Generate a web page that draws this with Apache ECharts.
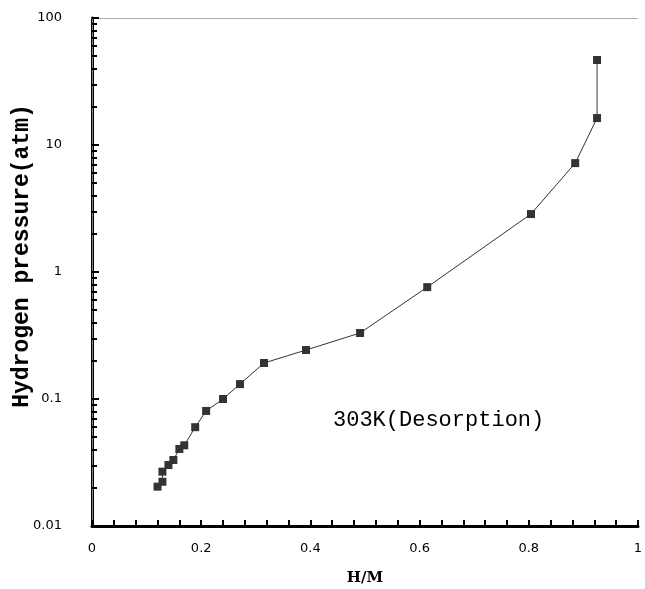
<!DOCTYPE html>
<html>
<head>
<meta charset="utf-8">
<script src="https://cdn.jsdelivr.net/npm/echarts@6/dist/echarts.min.js"></script>
<style>
  html, body { margin: 0; padding: 0; background: #fff; }
  #chart { width: 645px; height: 589px; }
</style>
</head>
<body>
<div id="chart"></div>
<script>
// H/M ratio and hydrogen pressure (atm), desorption at 303K
const hm = [0.925, 0.925, 0.885, 0.804, 0.614, 0.491, 0.392, 0.315, 0.271, 0.240,
  0.209, 0.189, 0.169, 0.160, 0.149, 0.140, 0.129, 0.129, 0.120];
const pressure = [46.7, 16.3, 7.2, 2.86, 0.76, 0.331, 0.243, 0.192, 0.131, 0.100,
  0.0805, 0.060, 0.0432, 0.0404, 0.0331, 0.0302, 0.0268, 0.0223, 0.0204];
const xTickLabels = ['0', '0.2', '0.4', '0.6', '0.8', '1'];
const yTickLabels = ['0.01', '0.1', '1', '10', '100'];

const myChart = echarts.init(document.getElementById('chart'));

const option = {
  animation: false,
  backgroundColor: '#fff',
  grid: { left: 92, right: 7, top: 18, bottom: 63, outerBoundsMode: 'none', containLabel: false },
  xAxis: [
    {
      type: 'value',
      min: 0,
      max: 1,
      interval: 0.2,
      name: 'H/M',
      nameLocation: 'middle',
      nameGap: 45,
      nameMoveOverlap: false,
      nameTextStyle: { fontFamily: 'DejaVu Serif', fontWeight: 'bold', fontSize: 15, color: '#000' },
      axisLine: { onZero: false, lineStyle: { color: '#000', width: 3 } },
      axisTick: { inside: true, length: 6, lineStyle: { color: '#000', width: 2 } },
      minorTick: { show: true, splitNumber: 5, length: 6, lineStyle: { color: '#000', width: 2 } },
      splitLine: { show: false },
      axisLabel: {
        margin: 16,
        fontFamily: 'DejaVu Sans',
        fontSize: 13,
        color: '#000',
        formatter: (v) => xTickLabels[Math.round(v / 0.2)]
      }
    },
    {
      type: 'value',
      position: 'top',
      min: 0,
      max: 1,
      axisLine: { show: true, lineStyle: { color: '#999', width: 1, type: 'dotted' } },
      axisTick: { show: false },
      axisLabel: { show: false },
      splitLine: { show: false }
    }
  ],
  yAxis: [
    {
      type: 'log',
      logBase: 10,
      min: 0.01,
      max: 100,
      name: 'Hydrogen pressure(atm)',
      nameLocation: 'middle',
      nameGap: 58,
      nameMoveOverlap: false,
      nameTextStyle: {
        fontFamily: 'Liberation Mono',
        fontWeight: 'bold',
        fontSize: 23,
        color: '#000',
        padding: [0, 0, 0, 32]
      },
      axisLine: { show: true, lineStyle: { color: '#000', width: 3 } },
      axisTick: { inside: true, length: 7, lineStyle: { color: '#000', width: 2 } },
      minorTick: { show: true, splitNumber: 9, length: 5, lineStyle: { color: '#000', width: 2 } },
      splitLine: { show: false },
      axisLabel: {
        margin: 30,
        fontFamily: 'DejaVu Sans',
        fontSize: 13,
        color: '#000',
        formatter: (v) => yTickLabels[Math.round(Math.log10(v)) + 2]
      }
    },
    {
      type: 'log',
      position: 'right',
      min: 0.01,
      max: 100,
      axisLine: { show: true, lineStyle: { color: '#999', width: 1, type: 'dotted' } },
      axisTick: { show: false },
      axisLabel: { show: false },
      splitLine: { show: false }
    }
  ],
  graphic: [
    {
      type: 'text',
      left: 333,
      top: 409,
      style: {
        text: '303K(Desorption)',
        font: '22px "Liberation Mono"',
        fill: '#000'
      }
    }
  ],
  series: [
    {
      type: 'line',
      data: hm.map((x, i) => [x, pressure[i]]),
      symbol: 'rect',
      symbolSize: 8,
      itemStyle: { color: '#333' },
      lineStyle: { color: '#333', width: 1 }
    }
  ]
};

myChart.setOption(option);
</script>
</body>
</html>
